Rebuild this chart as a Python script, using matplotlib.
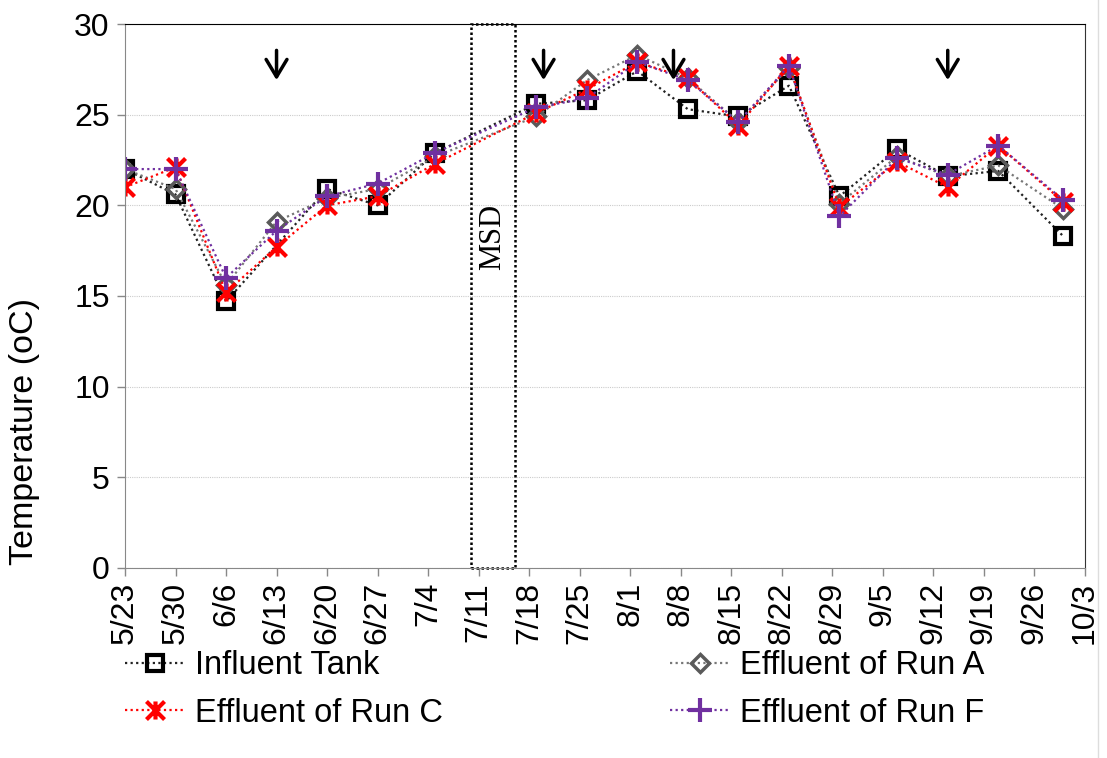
import matplotlib
matplotlib.use("Agg")
import matplotlib.pyplot as plt
import numpy as np
import pandas as pd
from matplotlib.path import Path
from matplotlib.patches import Rectangle
from matplotlib.lines import Line2D

plt.rcParams['font.family'] = ['Liberation Sans', 'DejaVu Sans']

# sampling dates (month/day) and temperatures in oC
dates = ["5/23", "5/30", "6/6", "6/13", "6/20", "6/27", "7/5", "7/19", "7/26",
         "8/2", "8/9", "8/16", "8/23", "8/30", "9/7", "9/14", "9/21", "9/30"]
influent = [22.0, 20.6, 14.7, np.nan, 20.9, 20.0, 22.9, 25.6, 25.8,
            27.4, 25.3, 24.9, 26.6, 20.5, 23.1, 21.6, 21.9, 18.3]
run_a = [22.0, 20.9, 15.6, 19.1, 20.4, 20.9, 22.7, 24.9, 26.9,
         28.3, 27.0, 24.6, 27.6, 20.1, 22.7, 21.6, 22.2, 19.8]
run_c = [21.0, 22.1, 15.2, 17.7, 20.0, 20.5, 22.3, 25.1, 26.4,
         27.9, 27.0, 24.4, 27.7, 19.9, 22.4, 21.0, 23.3, 20.2]
run_f = [22.0, 22.0, 16.0, 18.6, 20.5, 21.2, 22.9, 25.4, 25.9,
         27.9, 26.9, 24.6, 27.7, 19.4, 22.6, 21.7, 23.3, 20.3]

arrow_dates = ["6/13", "7/20", "8/7", "9/14"]
msd_start, msd_end = "7/10", "7/16"
tick_start, tick_end = "5/23", "10/3"

def to_date(s):
    return pd.to_datetime("2013/" + s, format="%Y/%m/%d")

x = pd.to_datetime(["2013/" + d for d in dates], format="%Y/%m/%d")

# Excel style star marker: an X with a vertical bar
star = Path([(-1, -1), (1, 1), (-1, 1), (1, -1), (0, -1), (0, 1)],
            [Path.MOVETO, Path.LINETO, Path.MOVETO, Path.LINETO, Path.MOVETO, Path.LINETO])

fig = plt.figure(figsize=(11.07, 7.58), dpi=100)
ax = fig.add_axes([0.1129, 0.2507, 0.8671, 0.7176])

def series(vals, **kw):
    v = np.array(vals, dtype=float)
    m = ~np.isnan(v)
    return ax.plot(x[m], v[m], linestyle=(0, (1, 1.5)), linewidth=1.6, **kw)[0]

h_inf = series(influent, color="#222222", marker="s", markersize=12, markerfacecolor="none",
               markeredgecolor="black", markeredgewidth=3, label="Influent Tank")
h_a = series(run_a, color="#777777", marker="D", markersize=9, markerfacecolor="none",
             markeredgecolor="#5a5a5a", markeredgewidth=2.5, label="Effluent of Run A")
h_c = series(run_c, color="red", marker=star, markersize=13, markerfacecolor="none",
             markeredgecolor="red", markeredgewidth=3, label="Effluent of Run C")
h_f = series(run_f, color="#7030A0", marker="+", markersize=17, markeredgecolor="#7030A0",
             markeredgewidth=3, label="Effluent of Run F")

# arrows marking events
for d in arrow_dates:
    ax.annotate("", xy=(to_date(d), 26.75), xytext=(to_date(d), 28.7),
                arrowprops=dict(arrowstyle="->, head_length=0.5, head_width=0.3",
                                color="black", lw=2.5, mutation_scale=25))

# MSD period box
x0 = matplotlib.dates.date2num(to_date(msd_start))
x1 = matplotlib.dates.date2num(to_date(msd_end))
ax.add_patch(Rectangle((x0, 0), x1 - x0, 30, fill=False, edgecolor="black",
                       linestyle=(0, (1, 1)), linewidth=1.8, clip_on=False, zorder=1))
ax.text((x0 + x1) / 2, 18.25, "MSD", rotation=90, ha="center", va="center",
        fontsize=22, family="Liberation Serif")

ticks = pd.date_range(to_date(tick_start), to_date(tick_end), freq="7D")
ax.set_xticks(ticks)
ax.set_xticklabels([f"{t.month}/{t.day}" for t in ticks], rotation=90, fontsize=23)
ax.set_xlim(to_date(tick_start), to_date(tick_end))
ax.set_ylim(0, 30)
ax.set_yticks(range(0, 31, 5))
ax.tick_params(axis="y", labelsize=23, length=6, color="#888888", width=1, pad=5)
ax.tick_params(axis="x", length=6, color="#888888", width=1, pad=4)
ax.set_ylabel("Temperature (oC)", fontsize=24.5)
ax.yaxis.set_label_coords(-0.089, 0.25)

ax.grid(axis="y", color="#cccccc", linestyle=(0, (1, 1)), linewidth=0.8)
ax.set_axisbelow(True)
ax.spines["left"].set_color("#888888")
ax.spines["bottom"].set_color("#888888")
ax.spines["top"].set_color("black")
ax.spines["right"].set_color("#333333")

leg_kw = dict(frameon=False, fontsize=23.5, handlelength=1.85, handletextpad=0.3,
              labelspacing=0.5, borderaxespad=0, borderpad=0)
fig.legend(handles=[h_inf, h_c], loc="upper left", bbox_to_anchor=(0.113, 0.142), **leg_kw)
fig.legend(handles=[h_a, h_f], loc="upper left", bbox_to_anchor=(0.605, 0.142), **leg_kw)

fig.add_artist(Line2D([0.992, 0.992], [0, 1], color="#dddddd", linewidth=1))

fig.savefig("out.png", dpi=100)
